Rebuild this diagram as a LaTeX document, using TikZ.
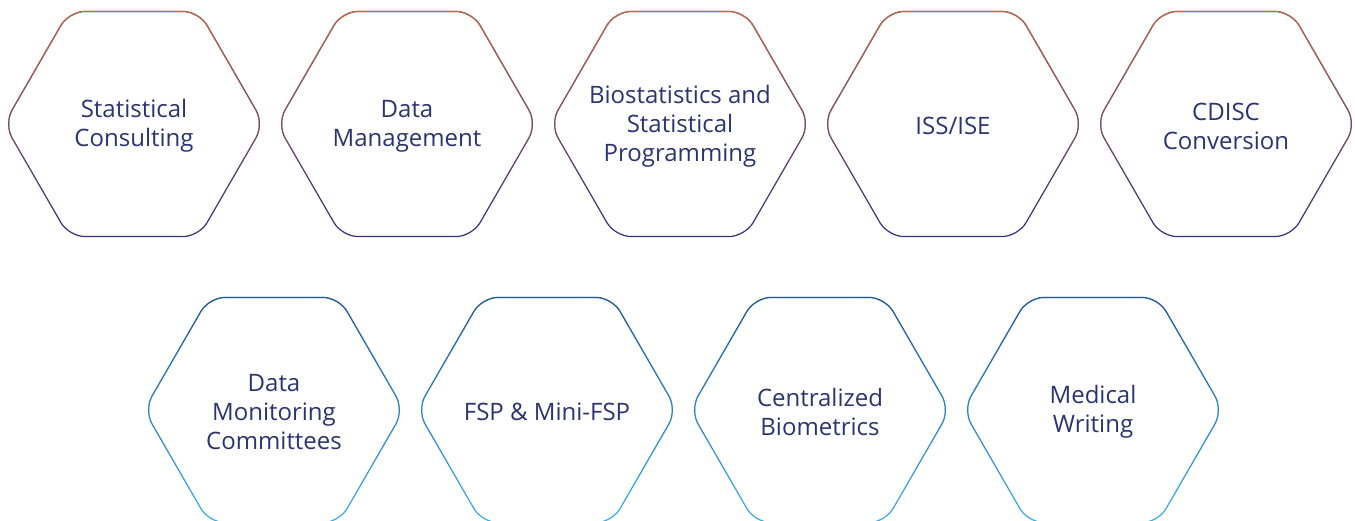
\documentclass[tikz,border=0pt]{standalone}
\usepackage{fontspec}
\setmainfont{Open Sans}
\usetikzlibrary{shapes.geometric,fadings}
\definecolor{txtblue}{HTML}{2B3470}
\definecolor{orangeA}{HTML}{CC6A3E}
\definecolor{navyA}{HTML}{2E3080}
\definecolor{blueB}{HTML}{2F568F}
\definecolor{skyB}{HTML}{3AB0EC}
\begin{document}
\begin{tikzpicture}[x=1pt,y=-1pt,node distance=273pt]
\tikzstyle {txt}=[align=center, text=txtblue, font=\fontsize{24}{29}\selectfont, yshift=-2pt]
\tikzstyle {hex}=[regular polygon, regular polygon sides=6, minimum size=260pt, inner sep=0pt, rounded corners=16pt, line width=1.2pt]
\tikzstyle {hexA}=[hex, draw=navyA, postaction={draw=orangeA, path fading=south}]
\tikzstyle {hexB}=[hex, draw=skyB, postaction={draw=blueB, path fading=south}]
\useasboundingbox (0,0) rectangle (1355,521);
\node (00) [hexA, label={[txt]center:Statistical\\Consulting}] at (134,124) {};
\node (01) [hexA, right of=00, label={[txt]center:Data\\Management}] {};
\node (02) [hexA, right of=01, label={[txt]center:Biostatistics and\\Statistical\\Programming}] {};
\node (03) [hexA, right of=02, label={[txt]center:ISS/ISE}] {};
\node (04) [hexA, right of=03, label={[txt]center:CDISC\\Conversion}] {};
\node (10) [hexB, label={[txt]center:Data\\Monitoring\\Committees}] at (274,410) {};
\node (11) [hexB, right of=10, label={[txt]center:FSP \& Mini-FSP}] {};
\node (12) [hexB, right of=11, label={[txt]center:Centralized\\Biometrics}] {};
\node (13) [hexB, right of=12, label={[txt]center:Medical\\Writing}] {};
\end{tikzpicture}
\end{document}
